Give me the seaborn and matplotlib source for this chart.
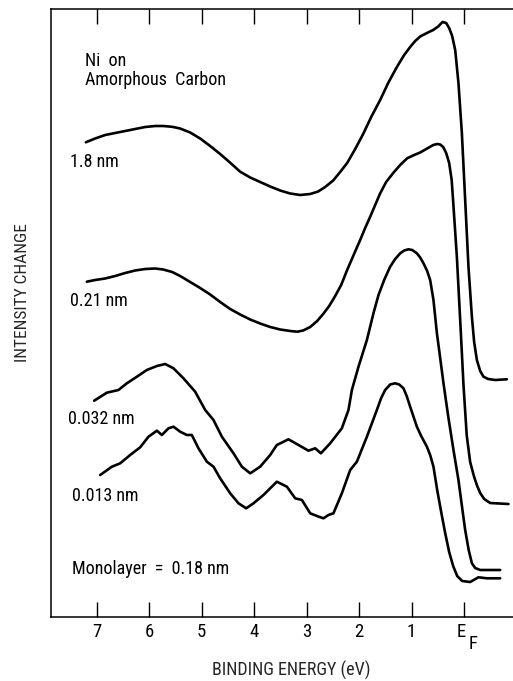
import matplotlib
matplotlib.use("Agg")
import matplotlib.pyplot as plt
import matplotlib.transforms as mtransforms
import seaborn as sns
import pandas as pd

# Binding energy (eV, E_F = 0) and intensity change (arb. units) for each Ni coverage
energy_18 = [7.206, 7.029, 6.838, 6.648, 6.457, 6.267, 6.076, 5.886, 5.733, 5.562,
             5.410, 5.219, 5.029, 4.838, 4.648, 4.457, 4.267, 4.076, 3.886, 3.695,
             3.505, 3.314, 3.124, 2.933, 2.781, 2.648, 2.495, 2.362, 2.229, 2.076,
             1.924, 1.771, 1.600, 1.448, 1.282, 1.143, 1.029, 0.933, 0.838, 0.710,
             0.590, 0.495, 0.413, 0.343, 0.286, 0.229, 0.171, 0.109, 0.044, -0.019,
             -0.082, -0.147, -0.190, -0.242, -0.305, -0.368, -0.457, -0.590, -0.813]
intensity_18 = [474.7, 478.5, 482.0, 484.0, 486.0, 488.0, 490.0, 491.0, 491.0, 490.2,
                488.5, 484.5, 478.5, 471.0, 463.0, 454.3, 445.3, 439.5, 435.0, 430.5,
                426.5, 423.5, 422.0, 423.0, 425.5, 430.0, 436.5, 445.0, 454.0, 468.0,
                483.0, 500.0, 517.0, 534.0, 550.0, 562.0, 570.0, 576.0, 580.5, 584.0,
                587.0, 590.5, 595.0, 594.0, 589.0, 581.0, 567.0, 534.0, 484.0, 417.0,
                350.0, 300.0, 275.0, 257.0, 246.0, 240.3, 238.0, 237.0, 237.7]

energy_021 = [7.187, 7.029, 6.838, 6.648, 6.457, 6.267, 6.076, 5.886, 5.733, 5.562,
              5.410, 5.219, 5.029, 4.838, 4.648, 4.457, 4.267, 4.076, 3.886, 3.695,
              3.505, 3.314, 3.181, 3.067, 2.933, 2.800, 2.686, 2.571, 2.457, 2.343,
              2.229, 2.114, 1.981, 1.886, 1.790, 1.695, 1.600, 1.486, 1.352, 1.219,
              1.086, 0.952, 0.838, 0.705, 0.590, 0.514, 0.457, 0.400, 0.343, 0.286,
              0.238, 0.204, 0.139, 0.076, 0.013, -0.048, -0.114, -0.190, -0.248,
              -0.305, -0.381, -0.495, -0.844]
intensity_021 = [335.3, 337.0, 338.5, 341.0, 344.0, 346.5, 348.0, 348.5, 347.5, 345.0,
                 341.0, 335.0, 329.0, 322.5, 315.0, 308.0, 302.5, 297.5, 293.5, 290.0,
                 287.5, 286.0, 285.3, 286.5, 290.0, 296.0, 303.0, 311.0, 321.0, 332.0,
                 347.0, 361.0, 377.0, 389.0, 400.3, 412.0, 423.7, 435.0, 444.0, 452.0,
                 458.7, 462.0, 464.5, 468.5, 472.0, 473.0, 472.5, 470.0, 464.0, 454.0,
                 437.0, 411.0, 360.0, 297.0, 232.0, 182.0, 155.0, 140.0, 131.0,
                 124.0, 118.0, 114.0, 113.0]

energy_0032 = [7.048, 6.806, 6.585, 6.425, 6.234, 6.044, 5.853, 5.695, 5.537, 5.347,
               5.124, 4.933, 4.775, 4.615, 4.394, 4.234, 4.076, 3.886, 3.695, 3.568,
               3.347, 3.156, 2.966, 2.838, 2.730, 2.552, 2.330, 2.204, 2.139, 2.013,
               1.853, 1.728, 1.632, 1.524, 1.410, 1.314, 1.219, 1.143, 1.061, 0.990,
               0.901, 0.838, 0.775, 0.705, 0.648, 0.585, 0.520, 0.457, 0.394, 0.305,
               0.204, 0.109, 0.038, -0.019, -0.086, -0.147, -0.210, -0.305, -0.686]
intensity_0032 = [216.3, 224.3, 227.0, 233.7, 240.3, 247.0, 251.0, 253.0, 248.7, 238.7,
                  225.3, 207.0, 197.0, 180.3, 163.7, 150.3, 143.7, 150.3, 162.0, 172.0,
                  177.7, 172.0, 166.3, 168.7, 163.7, 173.7, 188.7, 207.0, 227.0, 250.3,
                  277.0, 303.7, 322.0, 337.0, 350.3, 358.0, 363.7, 366.5, 367.7, 367.0,
                  363.7, 359.5, 353.7, 346.0, 337.0, 317.0, 284.0, 259.0, 233.7, 201.0,
                  167.0, 137.0, 109.0, 87.0, 67.0, 53.7, 49.0, 47.0, 47.0]

energy_0013 = [6.933, 6.710, 6.552, 6.362, 6.171, 6.013, 5.853, 5.758, 5.632, 5.537,
               5.410, 5.282, 5.187, 5.061, 4.901, 4.775, 4.648, 4.457, 4.299, 4.152,
               4.013, 3.823, 3.568, 3.377, 3.219, 3.091, 2.933, 2.806, 2.680, 2.585,
               2.490, 2.330, 2.171, 2.044, 1.853, 1.663, 1.581, 1.505, 1.410, 1.314,
               1.238, 1.156, 1.095, 1.029, 0.901, 0.819, 0.710, 0.648, 0.585, 0.514,
               0.438, 0.362, 0.286, 0.210, 0.133, 0.038, -0.114, -0.272, -0.432,
               -0.686]
intensity_0013 = [142.0, 150.3, 153.7, 162.0, 169.7, 180.3, 186.3, 182.0, 188.7, 190.3,
                  185.3, 182.0, 182.0, 168.7, 155.3, 150.3, 138.7, 123.7, 113.7, 108.7,
                  113.7, 122.0, 135.3, 130.3, 118.7, 117.0, 103.7, 101.0, 98.7, 102.0,
                  103.7, 123.7, 147.0, 155.3, 180.3, 207.0, 219.0, 227.0, 232.5, 233.7,
                  232.5, 228.7, 221.0, 210.3, 190.3, 181.0, 170.3, 162.0, 150.3, 127.0,
                  105.0, 84.0, 65.0, 51.0, 41.0, 36.0, 35.0, 39.7, 38.7,
                  38.7]

coverage_labels = ["1.8 nm", "0.21 nm", "0.032 nm", "0.013 nm"]
tick_energies = [7, 6, 5, 4, 3, 2, 1, 0]
tick_labels = ["7", "6", "5", "4", "3", "2", "1", "E"]

curves = pd.concat([
    pd.DataFrame({"energy": e, "intensity": i, "coverage": lab})
    for e, i, lab in zip([energy_18, energy_021, energy_0032, energy_0013],
                         [intensity_18, intensity_021, intensity_0032, intensity_0013],
                         coverage_labels)
], ignore_index=True)

sns.set_theme(style="white")
plt.rcParams["font.family"] = ["Roboto Condensed", "Liberation Sans", "DejaVu Sans"]

fig = plt.figure(figsize=(5.13, 6.81), dpi=100)
ax = fig.add_axes([51 / 513, 64 / 681, 462 / 513, 608 / 681])

sns.lineplot(data=curves, x="energy", y="intensity", units="coverage",
             estimator=None, sort=False, color="black", linewidth=1.9,
             ax=ax, legend=False)
for line in ax.lines:
    line.set_solid_joinstyle("round")
    line.set_solid_capstyle("round")

ax.set_xlim(7.87, -0.93)
ax.set_ylim(0, 608)

ax.set_xticks(tick_energies)
ax.set_xticklabels(tick_labels)
ax.set_yticks([])
ax.tick_params(axis="x", direction="in", length=11, width=1.0, top=True,
               bottom=True, labelsize=13.5, pad=4.5, colors="black")

# Fermi-level label: nudge the "E" left and set a lowered "F" beside it
fermi_label = ax.get_xticklabels()[-1]
fermi_label.set_transform(fermi_label.get_transform() +
                          mtransforms.ScaledTranslation(-3 / 100, 0, fig.dpi_scale_trans))
ax.text(-0.16, -0.045, "F", transform=ax.get_xaxis_transform(), fontsize=13.5,
        ha="center", va="center", color="black")

for side in ["left", "top", "bottom"]:
    ax.spines[side].set_visible(True)
    ax.spines[side].set_color("black")
    ax.spines[side].set_linewidth(1.1)
ax.spines["right"].set_visible(False)

ax.set_xlabel("BINDING ENERGY (eV)", fontsize=13)
ax.xaxis.label.set_va("baseline")
ax.xaxis.set_label_coords(0.521, -0.097)
ax.set_ylabel("INTENSITY CHANGE", fontsize=12.5)
ax.yaxis.set_label_coords(-0.045, 0.534)

txt = dict(fontsize=13, ha="left", va="baseline", color="black")
ax.text(7.219, 551, "Ni  on", **txt)
ax.text(7.219, 532, "Amorphous  Carbon", **txt)
ax.text(7.505, 449.7, coverage_labels[0], **txt)
ax.text(7.505, 311, coverage_labels[1], **txt)
ax.text(7.543, 193, coverage_labels[2], **txt)
ax.text(7.467, 116.3, coverage_labels[3], **txt)
ax.text(7.467, 43, "Monolayer  =  0.18 nm", **txt)

fig.savefig("out.png", dpi=100)
